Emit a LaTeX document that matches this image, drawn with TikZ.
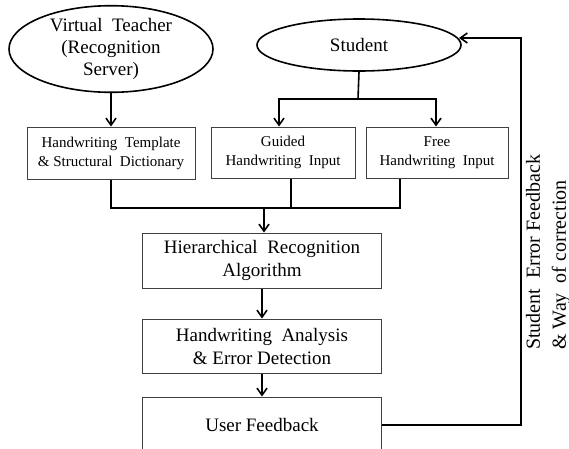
\documentclass[tikz,border=0pt]{standalone}
\usepackage{fontspec}
\setmainfont{Liberation Serif}
\usetikzlibrary{arrows.meta,shapes.geometric}
\begin{document}
\begin{tikzpicture}[x=1pt,y=-1pt,
  arr/.style={line width=1.6pt,-{Straight Barb[length=7pt,width=10pt,line width=1.6pt]}},
  conn/.style={line width=1.6pt},
  oval/.style={ellipse,draw=black,line width=1.6pt,inner sep=0pt,align=center,
     font=\fontsize{19}{22}\selectfont},
  smallbox/.style={rectangle,draw=black!75,line width=1pt,inner sep=0pt,align=center,
     font=\fontsize{15}{19}\selectfont},
  bigbox/.style={rectangle,draw=black!75,line width=1pt,inner sep=0pt,align=center,
     minimum width=239pt,font=\fontsize{19}{23}\selectfont}]
\useasboundingbox (0,0) rectangle (569,448);
\clip (0,0) rectangle (569,448);
% ellipses
\node[oval,minimum width=204pt,minimum height=72pt] (teacher) at (111,49)
  {Virtual\ \ Teacher\\(Recognition\\Server)};
\node[oval,minimum width=204pt,minimum height=52pt] (student) at (359,45) {Student};
% input boxes
\node[smallbox,minimum width=168pt,minimum height=52pt] (tmpl) at (111,153)
  {Handwriting\ \ Template\\\& Structural\ \ Dictionary};
\node[smallbox,minimum width=144pt,minimum height=51pt] (guided) at (283,152.5)
  {Guided\\Handwriting\ \ Input};
\node[smallbox,minimum width=142pt,minimum height=51pt] (free) at (437,152.5)
  {Free\\Handwriting\ \ Input};
% main column
\node[bigbox,minimum height=55pt] (hier) at (262,260.5)
  {Hierarchical\ \ Recognition\\Algorithm};
\node[bigbox,minimum height=54pt] (anal) at (262,346)
  {Handwriting\ \ Analysis\\\& Error Detection};
\node[bigbox,minimum height=56pt] (user) at (262,425) {User Feedback};
% coordinates
\coordinate (split) at (358,99);
\coordinate (merge) at (264,208);
\coordinate (fbtop) at (521,38);
\coordinate (fbend) at (459,38);
% connectors
\draw[arr] (teacher.south) -- (tmpl.north);
\draw[conn] (student.south) -- (split);
\draw[arr] (split) -| ([xshift=-4pt]guided.north);
\draw[arr] (split) -| ([xshift=-1pt]free.north);
\draw[conn] (tmpl.south) |- (merge);
\draw[conn] ([xshift=8pt]guided.south) |- (merge);
\draw[conn] ([xshift=-37pt]free.south) |- (merge);
\draw[arr] (merge) -- (merge |- hier.north);
\draw[arr] (hier.south) -- (anal.north);
\draw[arr] (anal.south) -- (user.north);
\draw[arr] (user.east) -| (fbtop) -- (fbend);
% rotated label
\node[rotate=90,anchor=west,align=left,inner sep=0pt,
  font=\fontsize{20}{26}\selectfont] (fblabel) at (548,350)
  {Student\ \ Error\ Feedback\\\& Way\ \ of\ correction};
\end{tikzpicture}
\end{document}
